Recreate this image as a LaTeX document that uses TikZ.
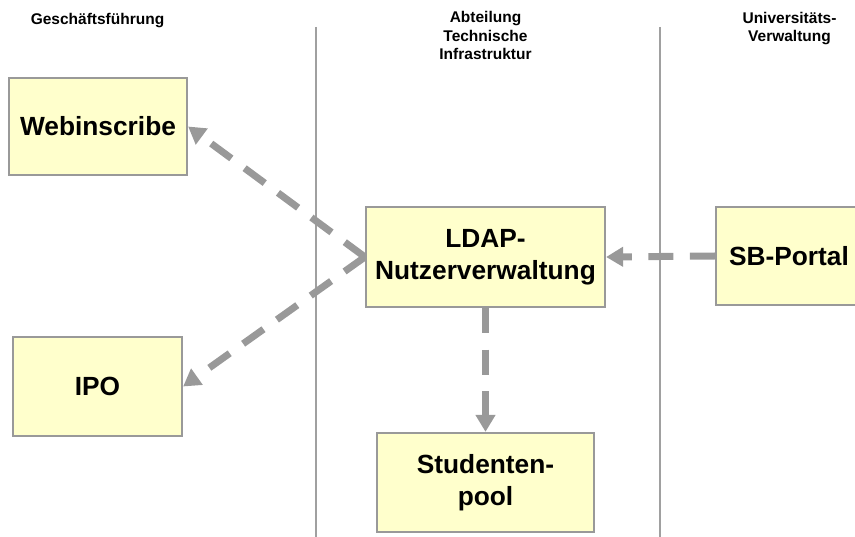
\documentclass[tikz,border=0pt]{standalone}
\usepackage{fontspec}
\setmainfont{Liberation Sans}
\usetikzlibrary{arrows.meta}
\definecolor{boxfill}{HTML}{FFFFCC}
\definecolor{boxline}{HTML}{999999}
\definecolor{arrowgray}{HTML}{999999}
\definecolor{lanegray}{HTML}{A0A0A0}
\tikzset{
  header/.style={align=center, inner sep=0pt, anchor=base, font=\fontsize{15.5}{18.7}\selectfont\bfseries},
  sysbox/.style={draw=boxline, fill=boxfill, line width=2.2pt, inner sep=0pt, align=center,
    font=\fontsize{26.3}{31.7}\selectfont\bfseries},
  flow/.style={draw=arrowgray, line width=7pt, dash pattern=on 25pt off 16.5pt,
    -{Triangle[length=17pt,width=19pt]}},
  lane/.style={draw=lanegray, line width=2.2pt}
}
\begin{document}
\begin{tikzpicture}[x=1pt,y=-1pt]
\useasboundingbox (0,0) rectangle (855,537);
\clip (0,0) rectangle (855,537);
% swimlane separators
\coordinate (l1t) at (316,27);
\coordinate (l1b) at (316,540);
\coordinate (l2t) at (660,27);
\coordinate (l2b) at (660,540);
\draw[lane] (l1t) -- (l1b);
\draw[lane] (l2t) -- (l2b);
% headers (base anchor = last line baseline)
\node[header] (h1) at (97.5,25) {Geschäftsführung};
\node[header] (h2) at (485.5,60) {Abteilung\\Technische\\Infrastruktur};
\node[header] (h3) at (789.5,42) {Universitäts-\\Verwaltung};
% boxes
\node[sysbox, minimum width=178pt, minimum height=97pt] (web) at (98,126.5) {Webinscribe};
\node[sysbox, minimum width=169pt, minimum height=99pt] (ipo) at (97.5,386.5) {IPO};
\node[sysbox, minimum width=239pt, minimum height=100pt] (ldap) at (485.5,257) {LDAP-\\Nutzerverwaltung};
\node[sysbox, minimum width=217pt, minimum height=99pt] (pool) at (485.5,482.5) {Studenten-\\pool};
\node[sysbox, minimum width=146pt, minimum height=98pt] (sb) at (789,256) {SB-Portal};
% connectors
\draw[flow] (ldap.west) -- (web.east);
\draw[flow] (ldap.west) -- (ipo.east);
\draw[flow] (sb.west) -- (ldap.east);
\draw[flow] (ldap.south) -- (pool.north);
\end{tikzpicture}
\end{document}
